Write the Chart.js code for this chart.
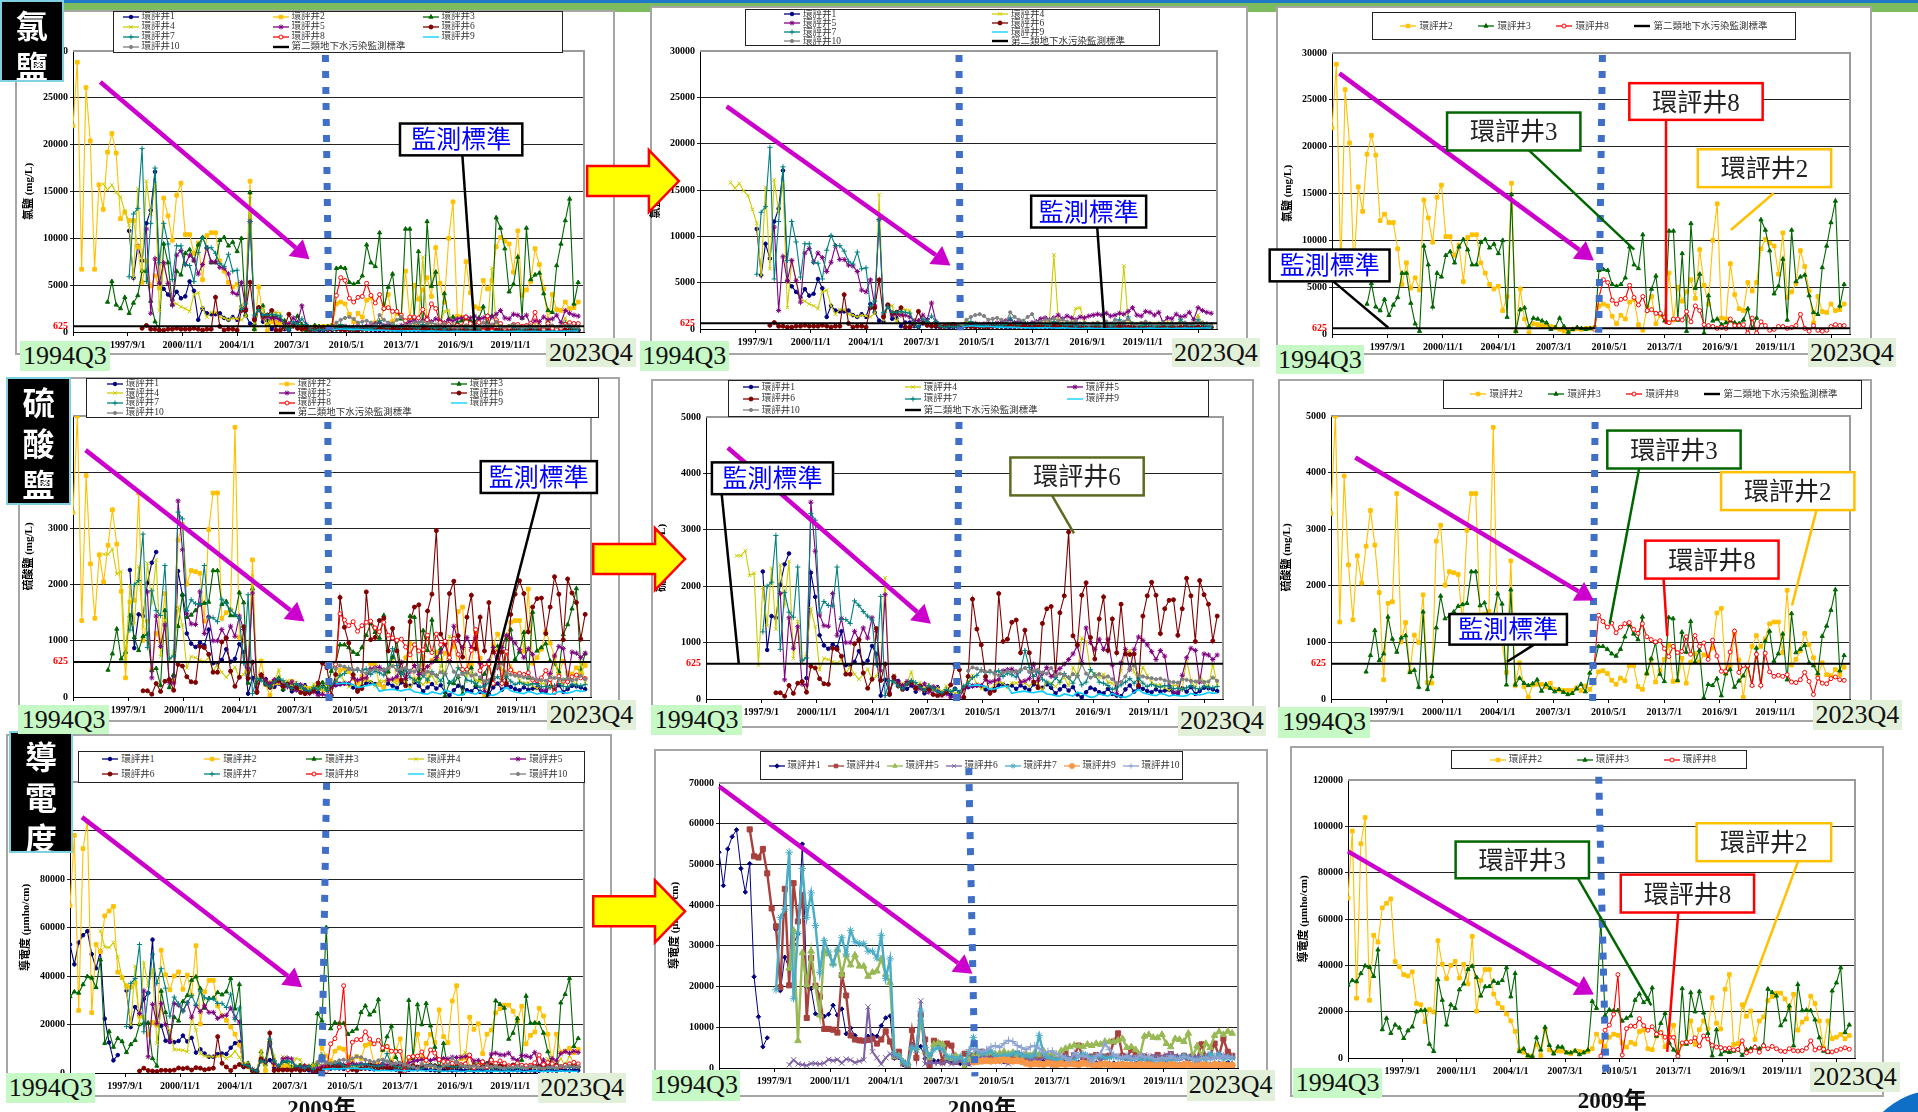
<!DOCTYPE html>
<html lang="zh-Hant">
<head>
<meta charset="utf-8">
<title>氯鹽 硫酸鹽 導電度 趨勢</title>
<script src="https://cdn.jsdelivr.net/npm/chart.js@4"></script>
<style>
  html, body { margin: 0; padding: 0; background: #fff; overflow: hidden; }
  #page { position: relative; width: 1918px; height: 1112px; overflow: hidden; }
  .abs { position: absolute; box-sizing: border-box; }
  .frame { background: #fff; border: 2px solid #a6a6a6; z-index: 1; }
  canvas.plot { position: absolute; z-index: 2; }
  .legend { background: #fff; border: 1.5px solid #222; z-index: 3; display: grid; align-items: center; font: 9.5px/9px "Liberation Serif", "Noto Sans CJK TC", serif; color: #333; }
  .legend div { display: flex; align-items: center; white-space: nowrap; min-height: 0; height: 9px; }
  .legend canvas { margin-right: 2px; }
  .tab { background: #000; color: #fff; border: 2px solid #7fd0e0; z-index: 5; overflow: hidden; text-align: center; padding-top: 2px; font: 700 32px/41px "Noto Sans CJK TC", serif; }
  .range { z-index: 5; color: #111; text-align: center; font: 26px/30px "Liberation Serif", serif; }
  #overlay { position: absolute; left: 0; top: 0; z-index: 4; }
</style>
</head>
<body>
<div id="page"></div>
<script>
const lead = (n, vals) => Array(n).fill(null).concat(vals);

// 橫軸刻度
const xTickLabels = ["1994/7/1", "1997/9/1", "2000/11/1", "2004/1/1", "2007/3/1", "2010/5/1", "2013/7/1", "2016/9/1", "2019/11/1", "2023/1/1"];
const standardValues = [625, 625];

// === 氯鹽 (mg/L) ===
const cl1 = lead(13, [10800,5800,9200,7600,11600,13000,17100,5200,4600,4000,3400,4300,3600,3800,5400,4400,1300,2500,2000,1900,1900,2000,1500,1300,1600,1300,2700,1800,900,800,2600,1100,1200,300,700,700,300,200,600,
  400,300,250,300,350,200,180,300,220,260,300,280,240,200,220,260,300,240,200,180,220,260,240,200,180,210,250,230,190,170,210,240,220,180,160,200,230,210,170,150,190,220,200,160,140,180,210,190,150,170,200,180,140,160,190,170,130,150,180,160,120,140,170,150,130,160]);
const cl2 = [22000,28800,6700,26100,20400,6700,15700,13100,19200,21200,19100,12100,12800,11900,11900,9100,5300,7600,4900,6000,4700,14300,12400,9800,14600,15900,10400,10400,8400,9500,5600,10300,10600,10600,7600,6500,5300,4800,5100,2500,4000,16100,300,4800,1600,100,1100,1000,900,900,800,700,500,300,500,500,600,500,600,600,
  700,3000,3200,3000,1900,1100,2000,1600,3400,3700,1000,400,2900,4000,1100,2000,1800,6500,1500,5000,3500,4500,5800,3800,9000,5200,3200,10000,13900,1700,1600,7500,4200,2700,2500,5500,4600,5500,9100,10100,9700,9400,6400,10800,3900,4500,5400,8900,7200,4600,1200,4000,2400,2300,3200,2500,2600,3200];
const cl3 = lead(8, [3200,5400,2900,2500,3700,2000,3100,3900,6500,6500,3300,1100,300,9400,7400,2900,6500,6100,8400,8800,7600,9300,10100,9000,7400,7400,9800,10100,9200,9600,8600,10000,1800,14900,300,2600,2800,800,1700,1600,1400,1200,500,700,1700,800,200,500,700,600,500,600,700,
  6800,6900,6800,5300,5100,5300,6000,9300,7400,7000,10600,2500,4800,6200,2200,1400,11000,11000,1500,8600,300,11800,4900,6400,100,4100,1400,1600,1000,1200,1400,1200,1100,1500,2700,600,1700,12200,11100,8900,4300,5100,8000,1500,11100,5600,6100,6300,4100,2300,2100,7100,9400,11900,14200,3000,5300]);
const cl4 = lead(7, [15800,15200,15700,14900,14400,12900,11400,5800,15300,6500,16100,12600,15800,2300,7300,5300,3200,3000,2700,2500,2200,4000,4200,2500,1600,2100,2100,1600,1500,1300,1500,1400,1300,1700,14500,1000,2500,2500,700,2100,2100,2000,400,
  800,700,900,600,400,500,350,600,500,400,500,900,700,600,450,500,600,550,400,450,600,500,350,400,500,600,450,500,600,700,900,8000,1000,600,500,700,2200,2300,700,600,500,700,600,400,500,450,700,6800,900,600,500,650,400,550,600,450,500,800,600,450,1000,500,400,600,1500,500,400,300]);
const cl5 = lead(17, [11000,2000,7800,5200,7400,5200,2900,8200,8700,7200,8200,7700,6200,7200,9000,7500,7500,6900,6800,6200,4200,4000,5300,2500,11800,1500,2500,1500,1600,1500,1500,1300,900,900,1500,1000,2800,800,
  300,200,400,300,350,400,500,450,600,500,550,600,500,650,700,900,1000,700,800,600,500,700,800,1100,1200,1000,1200,1500,1100,1400,1200,1000,1300,1200,1400,1500,1600,1500,1700,1400,1500,1700,1600,1900,2300,1500,1400,1900,1800,1500,1800,700,1200,1100,1600,1300,1400,1800,1000,2300,2000,1800,1700]);
const cl6 = lead(16, [400,700,300,300,200,200,300,300,400,300,300,300,400,300,200,300,300,3700,600,200,300,300,200,2300,2300,5300,1300,2600,1700,1800,2300,200,200,
  600,1900,700,400,300,400,200,300,400,500,250,300,350,250,200,250,150,200,300,250,300,350,400,300,250,300,350,400,350,300,350,300,400,350,300,250,300,350,300,250,200,250,300,200,250,300,200,300,250,200,300,250,200,150,250,200,150,200,250,200,150,200,250,300,200,250,200,150,200]);
const cl7 = lead(13, [5900,12600,13200,19600,5400,11600,17500,7400,11600,9400,5600,9200,9200,7200,7100,5400,8500,10100,9000,9000,8400,7300,7000,8300,6500,6600,2400,3000,11800,1800,2400,1800,1800,1900,1800,1700,700,200,1100,800,1400,800,
  300,150,300,200,300,400,500,800,500,400,300,500,600,300,400,500,1200,600,500,800,600,500,700,600,500,400,800,600,500,400,600,300,500,400,350,500,450,350,600,300,500,1000,500,1300,500,400,350,500,450,300,400,600,350,500,400,1000,500,450,400,1000,500,350,300]);
const cl8 = lead(60, [500,3900,5800,5500,3600,3200,3700,3800,5200,3900,3100,4000,2500,2600,2200,2200,1800,1200,1600,1600,1500,2400,1300,3000,2500,1000,900,800,600,700,600,1600,900,900,1000,100,1700,100,1300,900,400,500,800,800,600,700,900,2100,600,300,900,400,300,400,800,1000,900,900]);
const cl9 = lead(60, [200,300,350,300,280,250,300,250,200,220,180,200,180,150,130,120,100,130,120,150,130,100,90,120,100,80,70,60,80,90,70,60,80,60,50,70,60,80,70,60,80,60,70,90,70,60,80,70,60,80,70,90,80,70,90,110,100,90]);
const cl10 = lead(60, [500,1000,1300,1500,1600,1400,1000,1100,1200,1000,700,1800,1300,1000,900,1300,1600,700,800,1000,1000,1100,900,1000,800,700,900,600,700,500,600,700,500,800,600,1000,700,800,1100,600,500,650,800,600,500,600,700,550,650,500,600,700,550,600,650,700,600,550]);

// === 硫酸鹽 (mg/L) ===
const so1 = lead(13, [2260,870,1470,1440,2030,2390,2580,null,null,null,370,2240,1810,1130,950,890,970,920,1200,600,600,660,850,630,680,940,800,60,340,100,360,320,200,180,
  240,130,220,100,180,170,210,90,120,80,180,120,200,210,230,240,230,170,130,190,250,260,230,240,180,240,200,160,260,230,200,260,200,100,170,230,150,210,80,30,120,200,170,120,100,180,90,60,50,170,240,130,210,180,140,120,170,130,150,160,110,100,190,130,210,90,140,200,190,170,140]);
const so2 = [3280,5000,1360,3940,2370,1400,2530,2050,2700,3330,2720,1880,340,1690,1720,3630,1010,1350,490,1130,1000,1840,290,280,2790,3070,2010,2250,2230,2200,1350,2980,3630,3630,1400,1500,1550,4800,1060,1000,470,2440,240,640,220,30,250,260,260,220,280,170,160,150,150,150,200,150,230,170,
  280,480,500,450,330,260,370,320,590,590,220,170,450,700,300,500,700,950,310,320,720,280,650,800,650,780,760,900,1520,1600,450,570,1160,690,30,590,930,1120,930,1060,1330,1360,1360,820,1920,600,700,850,1160,960,730,420,640,430,410,520,430,560];
const so3 = lead(8, [480,770,1210,680,800,1450,1060,830,1080,1120,470,510,210,1540,170,400,1260,1820,1420,1460,1540,1640,1670,1690,2250,2250,1650,1700,1450,1450,1860,1680,250,1930,250,370,280,240,270,340,140,260,190,130,170,120,80,100,180,260,130,460,
  600,930,930,880,800,760,880,1100,1310,1150,1050,1450,450,710,1000,440,310,1440,1420,330,1180,830,1370,650,860,20,260,240,360,60,450,520,210,320,410,590,240,900,240,1020,1200,670,800,1150,340,1510,820,880,950,640,590,450,1110,1290,1570,1930,500,770]);
const so4 = lead(7, [2540,2540,2630,2190,2230,600,1980,1300,2320,1240,2380,1680,2440,720,1370,640,800,1600,1280,520,720,700,660,630,700,460,570,440,350,430,530,350,400,600,2150,90,420,260,280,290,480,180,
  290,190,260,160,200,130,230,140,100,120,180,300,420,270,180,220,180,240,300,280,200,290,280,310,280,230,300,280,160,300,280,220,310,380,240,560,420,1080,1020,500,450,380,440,300,280,180,500,820,860,480,320,560,420,300,240,260,200,150,250,230,170,700,330,200,420,300,220,620,260]);
const so5 = lead(17, [1870,340,1440,900,1280,260,250,3490,2620,1490,1300,1290,1870,1130,1430,1000,1000,1200,1050,1260,1080,1440,1200,500,1850,100,400,300,240,310,280,220,180,270,120,220,130,60,90,30,50,20,180,
  220,230,240,240,350,300,320,340,500,520,530,480,300,320,360,620,330,450,560,400,480,540,620,700,800,940,650,1260,1000,880,1060,880,1060,600,100,640,880,520,880,1100,1040,960,840,700,860,760,240,120,120,420,730,900,860,300,800,780,700,780]);
const so6 = lead(16, [110,110,50,240,100,280,310,120,580,550,360,270,260,900,880,760,440,440,980,1050,460,190,350,1250,330,620,80,390,230,170,270,300,190,230,150,180,80,60,80,120,250,600,520,30,
  400,1770,1240,960,400,100,150,1870,1020,1060,1360,1400,820,1220,820,300,200,1340,1600,1640,420,1530,1830,2960,1120,960,1840,2060,1090,710,1420,1810,860,1420,820,1680,800,790,800,240,1470,1830,2070,1840,1160,1600,1750,1760,1130,1600,2140,1830,1020,2100,1850,1680,1030,1470]);
const so7 = lead(13, [1190,2000,2070,2900,880,1890,1540,1450,2340,680,730,3290,3170,1540,1730,1660,1650,2340,1410,1410,1340,1740,1660,1550,1470,1400,600,1820,60,330,300,
  230,180,270,330,290,210,150,240,190,130,110,170,130,180,120,230,280,380,420,520,470,480,470,500,400,460,430,390,500,860,560,400,490,350,300,250,380,300,450,380,280,420,250,300,520,430,300,280,240,170,200,250,300,360,280,370,280,220,260,230,210,240,230,180,190,170,200,240,190,180,230,210,200,220]);
const so8 = lead(60, [580,1480,1370,1270,1340,1170,1270,1330,1350,1230,1160,1330,1100,1050,1010,1030,890,750,930,820,840,1100,790,1120,930,990,700,1040,760,490,490,830,1200,470,590,590,240,790,240,810,480,400,420,400,430,300,290,340,470,310,80,370,280,270,360,390,340,330]);
const so9 = lead(60, [230,240,250,240,220,170,180,200,220,230,100,120,130,140,120,110,130,140,90,80,60,50,90,70,50,120,100,60,30,40,90,70,50,100,60,40,30,60,120,170,110,90,70,60,100,80,50,70,60,50,60,100,80,70,90,120,100,110]);
const so10 = lead(60, [500,560,540,500,480,500,450,420,470,500,480,490,520,550,480,500,520,470,450,550,420,450,420,380,440,400,620,450,380,410,440,380,400,350,280,300,400,540,600,420,400,380,370,350,360,330,310,300,290,350,340,320,310,330,300,310,380,320]);

// === 導電度 (μmho/cm) ===
const ec1 = [53000,44800,53800,56800,58500,49000,43200,50200,22400,12600,5200,7400,null,34000,19000,27200,24500,30500,33000,55000,19800,19500,13300,12800,12700,13200,15400,13000,14500,8400,9800,8000,6700,6700,7800,8000,7800,10400,12300,12800,2400,2500,800,500,5800,5000,5300,2300,2300,1800,
  1700,1500,1900,1300,1400,1100,800,1000,1500,1700,1800,2000,1900,1700,1600,1500,1800,2100,1900,1700,1500,1900,2200,1800,1600,1400,1300,900,1300,1600,1500,1700,1400,1200,1100,900,1300,1200,1000,1100,1200,1000,1300,900,1100,1200,1000,800,1300,1100,1000,900,1200,1100,900,1000,1100,800,900,1200,1000,1100,900,1300,1200,1000,1400,1100];
const ec2 = [69000,98000,25800,92500,103800,24900,53000,50000,64800,66800,68700,41600,39400,36000,35400,37200,23500,23000,15700,20900,19800,50600,40500,34300,40000,41700,34500,40400,32000,52500,20200,33500,38200,38200,27600,23600,21700,19000,16000,11500,3500,2500,1000,800,5800,1000,12400,3500,2500,3000,3000,2500,1800,3000,2800,2600,2900,4000,10300,7000,
  5000,9000,10300,9800,6500,4700,6800,6000,11400,12000,4000,3600,9500,11000,4900,9200,14100,2500,6000,6800,16000,5900,12200,16000,12600,26000,15000,12500,29700,36000,5800,6200,23000,18000,20300,8000,16000,17700,24800,26500,28000,28000,25500,21500,27500,12000,15500,16900,26700,23500,16000,4400,16000,8400,9000,10200,8300,9700];
const ec3 = [31500,33500,33000,36500,39800,39200,35300,46700,12300,17200,10700,14300,13000,8500,11800,13500,20000,20500,20700,6000,2900,33800,25000,14300,23000,21500,29500,32000,38300,39700,34800,26800,30800,30900,33200,32300,33500,39000,26500,36500,2800,4000,1000,700,8800,3500,13300,5500,1800,4800,4700,2300,2300,3100,1500,2300,3500,24500,21500,60000,
  18300,20800,20500,20500,16000,17200,18200,25000,27700,24000,25500,30300,9500,15000,19300,6500,3500,1500,30000,6000,28200,20000,28700,19500,10700,1000,12200,1500,3000,2500,3000,3700,1200,3500,4000,4800,4000,5700,29800,28300,26800,14000,16500,22500,5300,31700,20500,20700,20500,16500,8800,3000,2400,29000,32500,39000,11000,14300];
const ec4 = lead(7, [58600,52000,51700,53800,47800,39200,34800,19800,44000,20300,45400,36000,42500,12300,27000,20200,17500,9600,9600,9400,8700,22800,17800,8000,7000,6800,6700,6900,7200,6000,7000,9000,6500,2800,4000,1200,500,9300,2500,13000,7000,500,6700,6000,1500,6000,5500,1500,2000,3500,
  2500,3000,3800,4000,3200,2800,2500,2200,3000,2500,3200,3500,2800,2400,3000,2600,2800,3100,2300,2500,2000,2300,3500,2200,3000,5500,2600,2400,2800,3200,2600,2800,3000,6500,8500,3000,2500,4500,3800,2300,2800,2200,2600,3200,2500,2800,3400,2700,2500,3000,2400,2800,2200,5800,2800,3000,6000,3000,7200,4000,3000]);
const ec5 = lead(16, [24500,33800,6700,28300,20500,28700,20000,13000,28700,28000,25700,29000,23000,27800,25300,27700,25000,25000,22500,23500,23800,26800,23000,21000,2800,3000,1500,800,5000,5000,12000,4000,2500,5800,6200,5800,2500,2200,3000,2500,200,2000,2800,
  3000,3200,3500,3800,3400,3600,4000,3500,3800,3200,3000,3500,3000,3800,3200,4200,3000,3600,1000,4200,4800,5200,5600,5400,5200,5800,5500,6000,5800,6500,6400,6500,6800,7200,5000,5200,4500,3200,7800,8200,7500,7400,8200,6000,5200,7200,7000,6500,8500,2800,5400,3000,6000,5000,8000,8900,8200,9000,8500]);
const ec6 = lead(16, [800,2000,1000,800,600,1100,1100,1000,1200,2100,1800,2100,1200,2200,2000,1300,1700,2000,15000,4000,2500,1000,2500,3500,2800,2800,1000,700,5800,4500,16500,1000,1300,1200,
  1300,1100,1500,1000,1300,1800,1200,900,1500,2000,3000,2600,2500,2800,2500,1500,1000,1800,2000,3500,2800,2000,2200,1800,2400,2600,500,1800,2500,3000,2500,3000,2800,3200,3000,2600,2800,2000,2500,2600,3000,2800,2400,3000,2800,2600,2800,3200,2400,3000,3000,2600,3300,3600,3000,2800,2400,3000,2600,2800,2600,3000,3300,2600,2800,3000,2800,2600]);
const ec7 = lead(13, [19200,37000,39000,53000,17000,33000,49000,37000,43000,35000,23500,31300,28500,25500,29000,32000,28000,33800,31000,30500,30600,28700,28700,27000,32500,22000,26800,3500,3000,1500,800,5000,4500,14000,5000,3000,4500,5000,4500,2800,2800,2000,2800,1500,3800,7500,
  4000,3500,3800,4200,3000,2800,3200,3000,3500,3800,3200,3000,2800,3200,8000,3500,2600,2400,2000,2200,2500,2000,1800,3000,3500,3000,2400,2800,3000,2500,2600,2800,2600,2300,2500,1900,2300,2100,2000,2400,1800,2000,1700,2200,1900,2100,2300,3000,2400,2100,1900,2300,2100,3500,2500,3500,2200,2600,2400]);
const ec8 = lead(59, [800,12000,14200,18900,36000,1300,12700,13800,13700,17000,14000,12000,13500,10300,10900,9000,8900,8900,800,6500,6800,7000,8700,5200,9500,8200,5500,4700,4500,4000,4300,3500,3700,7400,2200,3000,4600,2500,5300,4000,5000,4000,3000,2800,4000,3200,3000,3200,4200,7400,3500,4300,3800,2800,2600,3200,3800,4400,3800]);
const ec9 = lead(58, [1500,1600,1700,1800,1700,1800,1900,2000,1900,1700,1800,1600,1200,900,1100,1000,900,1200,1000,800,1100,900,1100,1000,800,1200,1000,900,700,800,1000,800,600,700,900,700,800,600,900,700,800,600,700,800,600,900,700,600,800,900,700,600,800,700,600,900,700,800,600,700]);
const ec10 = lead(57, [4500,4800,4300,4000,4500,5200,5500,5000,6000,6800,6500,5500,5000,4500,5200,5500,4800,3800,4000,4200,3500,3000,2500,1800,3800,2800,3000,2600,1500,3000,3500,6000,4500,3200,2800,2500,3000,2400,2200,3200,2600,2800,2300,2000,2600,2200,3000,2400,2000,2800,2600,2200,1800,2400,2600,2000,2800,2400,3000,2500,2700]);

const chlorideWells = [cl1, cl2, cl3, cl4, cl5, cl6, cl7, cl8, cl9, cl10];
const sulfateWells = [so1, so2, so3, so4, so5, so6, so7, so8, so9, so10];
const conductWells = [ec1, ec2, ec3, ec4, ec5, ec6, ec7, ec8, ec9, ec10];

const wellNames = ["環評井1", "環評井2", "環評井3", "環評井4", "環評井5", "環評井6", "環評井7", "環評井8", "環評井9", "環評井10"];
const stdName = "第二類地下水污染監測標準";

// 線與點的樣式
const classicStyle = [
  { color: "#000080", point: "circle", r: 1.8 },
  { color: "#FFC000", point: "rect", r: 2.6 },
  { color: "#006600", point: "triangle", r: 2.4 },
  { color: "#CCCC00", point: "crossRot", r: 2.6 },
  { color: "#800080", point: "star", r: 2.6 },
  { color: "#800000", point: "circle", r: 2 },
  { color: "#008080", point: "cross", r: 2.6 },
  { color: "#FF0000", point: "circle", r: 2, hollow: true },
  { color: "#00CCFF", point: false, r: 0, width: 1.6 },
  { color: "#808080", point: "circle", r: 1.6 }
];
const officeStyle = [
  { color: "#000080", point: "rectRot", r: 2.2, width: 1 },
  classicStyle[1],
  classicStyle[2],
  { color: "#A8403D", point: "rect", r: 3.6, width: 2.4 },
  { color: "#98B954", point: "triangle", r: 3.8, width: 2.4 },
  { color: "#7D60A0", point: "crossRot", r: 3.8, width: 2 },
  { color: "#4BACC6", point: "star", r: 3.8, width: 2.4 },
  classicStyle[7],
  { color: "#F79646", point: "circle", r: 3.2, width: 2.4 },
  { color: "#8DA3D1", point: "cross", r: 3.8, width: 2 }
];

const S = 1918 / 1568; // 座標以縮圖量取
const sz = v => v * S;

const ALL = [0, 1, 2, 3, 4, 5, 6, 7, 8, 9];
const OTHERS = [0, 3, 4, 5, 6, 8, 9];
const MAIN = [1, 2, 7];

const panels = [
  { wells: chlorideWells, use: ALL, std: true, max: 30000, step: 5000, unit: "氯鹽 (mg/L)", frame: [12, 8, 503, 290], plot: [60, 42, 478, 272], legend: [92, 9, 460, 43], cols: 3, colW: 150, pad: 8 },
  { wells: chlorideWells, use: OTHERS, std: true, max: 30000, step: 5000, unit: "氯鹽 (mg/L)", frame: [531, 5, 1020, 290], plot: [572, 42, 995, 270], legend: [609, 7, 948, 38], cols: 2, colW: 208, pad: 37 },
  { wells: chlorideWells, use: MAIN, std: true, max: 30000, step: 5000, unit: "氯鹽 (mg/L)", frame: [1043, 5, 1530, 290], plot: [1089, 43, 1513, 273], legend: [1122, 10, 1468, 33], cols: 4, colW: 78, pad: 26 },
  { wells: sulfateWells, use: ALL, std: true, max: 5000, step: 1000, unit: "硫酸鹽 (mg/L)", frame: [15, 308, 507, 590], plot: [60, 340, 484, 570], legend: [70, 309, 490, 342], cols: 3, colW: 172, pad: 19 },
  { wells: sulfateWells, use: OTHERS, std: true, max: 5000, step: 1000, unit: "硫酸鹽 (mg/L)", frame: [532, 310, 1025, 595], plot: [577, 341, 1000, 572], legend: [595, 311, 988, 341], cols: 3, colW: 162, pad: 13 },
  { wells: sulfateWells, use: MAIN, std: true, max: 5000, step: 1000, unit: "硫酸鹽 (mg/L)", frame: [1045, 310, 1530, 590], plot: [1088, 340, 1513, 572], legend: [1180, 311, 1522, 334], cols: 4, colW: 78, pad: 25 },
  { wells: conductWells, use: ALL, std: false, max: 120000, step: 20000, unit: "導電度 (μmho/cm)", frame: [5, 600, 500, 897], plot: [57, 639, 478, 877], legend: [64, 614, 478, 640], cols: 5, colW: 102, pad: 22 },
  { wells: conductWells, use: OTHERS, std: false, max: 70000, step: 10000, unit: "導電度 (μmho/cm)", frame: [535, 612, 1037, 897], plot: [588, 640, 1013, 873], legend: [621, 614, 967, 638], cols: 7, colW: 59, pad: 7, office: true },
  { wells: conductWells, use: MAIN, std: false, max: 120000, step: 20000, unit: "導電度 (μmho/cm)", frame: [1055, 610, 1540, 897], plot: [1102, 638, 1517, 866], legend: [1186, 613, 1428, 629], cols: 3, colW: 87, pad: 37 }
];

// 監測位置 (藍色虛線)
const dashLines = [
  [266, 45, 269, 270], [784, 45, 785, 270], [1310, 45, 1307, 272],
  [268, 345, 269, 575], [784, 345, 782, 575], [1304, 345, 1302, 575],
  [267, 640, 263, 880], [792, 628, 797, 880], [1307, 635, 1313, 882]
];
// 紫色箭頭
const trendArrows = [
  [82, 67, 253, 212], [594, 87, 777, 217], [1095, 60, 1303, 213],
  [70, 368, 249, 508], [595, 366, 761, 510], [1108, 374, 1303, 491],
  [67, 668, 247, 807], [588, 643, 795, 796], [1102, 696, 1303, 813]
];
// 黃色箭頭: x0, x1, 中線 y
const moveArrows = [[480, 555, 148], [485, 560, 457], [485, 560, 745]];
// 標註: 文字, 框, 引線, 顏色
const callouts = [
  { t: "監測標準", box: [327, 101, 427, 127], line: [378, 127, 388, 270], c: "#000", tc: "#0000FF" },
  { t: "監測標準", box: [843, 160, 937, 186], line: [897, 186, 903, 268], c: "#000", tc: "#0000FF" },
  { t: "監測標準", box: [1038, 204, 1136, 230], line: [1090, 230, 1135, 268], c: "#000", tc: "#0000FF" },
  { t: "環評井3", box: [1183, 92, 1292, 123], line: [1250, 123, 1336, 204], c: "#006600", tc: "#222" },
  { t: "環評井8", box: [1332, 68, 1441, 98], line: [1362, 98, 1362, 265], c: "#FF0000", tc: "#222" },
  { t: "環評井2", box: [1388, 122, 1497, 153], line: [1450, 158, 1415, 188], c: "#FFC000", tc: "#222" },
  { t: "監測標準", box: [393, 377, 488, 403], line: [441, 403, 398, 570], c: "#000", tc: "#0000FF" },
  { t: "監測標準", box: [582, 378, 681, 404], line: [590, 404, 604, 543], c: "#000", tc: "#0000FF" },
  { t: "環評井6", box: [826, 374, 935, 405], line: [860, 405, 878, 436], c: "#5B6B1F", tc: "#222" },
  { t: "監測標準", box: [1185, 502, 1281, 527], line: [1254, 527, 1232, 541], c: "#000", tc: "#0000FF" },
  { t: "環評井3", box: [1314, 352, 1423, 383], line: [1340, 383, 1316, 510], c: "#006600", tc: "#222" },
  { t: "環評井2", box: [1407, 386, 1516, 417], line: [1485, 417, 1465, 495], c: "#FFC000", tc: "#222" },
  { t: "環評井8", box: [1345, 442, 1454, 473], line: [1360, 473, 1363, 520], c: "#FF0000", tc: "#222" },
  { t: "環評井3", box: [1190, 688, 1299, 718], line: [1290, 718, 1350, 822], c: "#006600", tc: "#222" },
  { t: "環評井2", box: [1387, 673, 1497, 704], line: [1470, 704, 1425, 825], c: "#FFC000", tc: "#222" },
  { t: "環評井8", box: [1325, 715, 1434, 746], line: [1372, 746, 1363, 860], c: "#FF0000", tc: "#222" }
];
const tabs = [
  { t: "氯鹽", box: [0, 0, 52, 67] },
  { t: "硫酸鹽", box: [5, 308, 58, 413] },
  { t: "導電度", box: [7, 598, 60, 697] }
];
const ranges = [
  [16, 279, 90, 303, 0], [446, 276, 520, 300, 1],
  [523, 279, 596, 303, 0], [958, 276, 1030, 300, 1],
  [1043, 282, 1115, 306, 0], [1478, 276, 1550, 300, 1],
  [15, 576, 89, 600, 0], [447, 572, 520, 597, 1],
  [532, 576, 607, 601, 0], [963, 577, 1035, 602, 1],
  [1045, 578, 1120, 603, 0], [1482, 572, 1555, 597, 1],
  [5, 877, 78, 902, 0], [440, 877, 512, 902, 1],
  [533, 875, 605, 900, 0], [970, 875, 1042, 900, 1],
  [1057, 873, 1130, 898, 0], [1480, 868, 1553, 893, 1]
];
const yearLabels = [[263, 912], [803, 912], [1318, 906]];

const page = document.getElementById("page");

function addDiv(cls, box) {
  const d = document.createElement("div");
  d.className = "abs " + cls;
  d.style.left = sz(box[0]) + "px";
  d.style.top = sz(box[1]) + "px";
  d.style.width = sz(box[2] - box[0]) + "px";
  d.style.height = sz(box[3] - box[1]) + "px";
  page.appendChild(d);
  return d;
}

// 上方色帶
function addBand(top, h, color) {
  const d = document.createElement("div");
  d.className = "abs";
  d.style.cssText += `left:0;width:1918px;top:${top}px;height:${h}px;background:${color}`;
  page.appendChild(d);
}
addBand(3, 9, "#7DBB5F");
addBand(0, 3, "#1F78C8");

const plotBorder = {
  id: "plotBorder",
  beforeDatasetsDraw(chart) {
    const a = chart.chartArea, c = chart.ctx;
    c.save();
    c.strokeStyle = "#9a9a9a";
    c.lineWidth = 2;
    c.beginPath();
    c.moveTo(a.left, a.top);
    c.lineTo(a.right, a.top);
    c.lineTo(a.right, a.bottom);
    c.stroke();
    c.restore();
  }
};

const seriesPoints = vals => vals.map((v, i) => ({ x: i * 3, y: v }));

function buildDatasets(p) {
  const styles = p.office ? officeStyle : classicStyle;
  const sets = p.use.map((w, n) => {
    const st = styles[w];
    return {
      label: wellNames[w],
      data: seriesPoints(p.wells[w]),
      borderColor: st.color,
      backgroundColor: st.hollow ? "#fff" : st.color,
      borderWidth: st.width || 1.1,
      pointStyle: st.point,
      pointRadius: st.r,
      pointBorderWidth: 1,
      pointBorderColor: st.color,
      spanGaps: false,
      order: 50 - n
    };
  });
  if (p.std) {
    sets.push({
      label: stdName,
      data: [{ x: 0, y: standardValues[0] }, { x: 355, y: standardValues[1] }],
      borderColor: "#000",
      borderWidth: 2,
      pointRadius: 0,
      order: 1
    });
  }
  return sets;
}

function drawPlot(p) {
  addDiv("frame", p.frame);
  const left = 52, top = 8, right = 8, bottom = 28;
  const w = sz(p.plot[2] - p.plot[0]), h = sz(p.plot[3] - p.plot[1]);
  const cv = document.createElement("canvas");
  cv.className = "plot";
  cv.width = w + left + right;
  cv.height = h + top + bottom;
  cv.style.left = (sz(p.plot[0]) - left) + "px";
  cv.style.top = (sz(p.plot[1]) - top) + "px";
  cv.style.width = cv.width + "px";
  cv.style.height = cv.height + "px";
  page.appendChild(cv);

  const tickFont = { family: '"Liberation Serif", serif', size: 10, weight: "bold" };
  new Chart(cv.getContext("2d"), {
    type: "line",
    data: { datasets: buildDatasets(p) },
    plugins: [plotBorder],
    options: {
      responsive: false,
      animation: false,
      layout: { autoPadding: false, padding: { top: top, right: right, left: 0, bottom: 0 } },
      plugins: { legend: { display: false }, tooltip: { enabled: false } },
      scales: {
        x: {
          type: "linear",
          min: 0,
          max: 355,
          afterBuildTicks: s => { s.ticks = xTickLabels.map((_, i) => ({ value: i * 38 })); },
          afterFit: s => { s.height = bottom; },
          grid: { drawOnChartArea: false, color: "#000", tickLength: 4 },
          border: { color: "#000" },
          ticks: {
            autoSkip: false,
            maxRotation: 0,
            color: "#000",
            font: tickFont,
            padding: 3,
            callback: (v, i) => i === 0 ? "" : xTickLabels[i]
          }
        },
        y: {
          min: 0,
          max: p.max,
          afterBuildTicks: s => {
            const ticks = [];
            for (let v = 0; v <= p.max; v += p.step) ticks.push({ value: v });
            if (p.std) ticks.splice(1, 0, { value: 625 });
            s.ticks = ticks;
          },
          afterFit: s => { s.width = left; },
          title: { display: true, text: p.unit, color: "#000", padding: { top: 2, bottom: 0 }, font: { family: '"Liberation Serif", "Noto Sans CJK TC", serif', size: 11, weight: "bold" } },
          grid: {
            color: c => (c.tick && (c.tick.value === 625 || c.tick.value === p.max || c.tick.value === 0)) ? "rgba(0,0,0,0)" : "#222",
            lineWidth: 1,
            tickLength: 3
          },
          border: { color: "#000" },
          ticks: {
            autoSkip: false,
            color: c => c.tick.value === 625 ? "#FF0000" : "#000",
            font: tickFont,
            padding: 2,
            callback: v => String(v)
          }
        }
      }
    }
  });
}

// 圖例樣本
function legendSwatch(st, isStd) {
  const cv = document.createElement("canvas");
  cv.width = 18;
  cv.height = 8;
  const c = cv.getContext("2d");
  c.strokeStyle = st.color;
  c.lineWidth = isStd ? 2.4 : 1.3;
  c.beginPath();
  c.moveTo(1, 4);
  c.lineTo(17, 4);
  c.stroke();
  if (st.point && Chart.helpers && Chart.helpers.drawPoint) {
    c.fillStyle = st.hollow ? "#fff" : st.color;
    c.lineWidth = 1;
    Chart.helpers.drawPoint(c, { pointStyle: st.point, radius: Math.min(st.r, 2.5), rotation: 0, borderWidth: 1 }, 9, 4);
  }
  return cv;
}

function drawLegend(p) {
  const d = addDiv("legend", p.legend);
  const styles = p.office ? officeStyle : classicStyle;
  const entries = p.use.map(w => ({ name: wellNames[w], st: styles[w] }));
  if (p.std) entries.push({ name: stdName, st: { color: "#000" }, std: true });
  const rows = Math.ceil(entries.length / p.cols);
  d.style.gridTemplateColumns = `repeat(${p.cols}, ${p.colW}px)`;
  d.style.gridTemplateRows = `repeat(${rows}, 1fr)`;
  d.style.paddingLeft = p.pad + "px";
  entries.forEach(e => {
    const row = document.createElement("div");
    row.appendChild(legendSwatch(e.st, e.std));
    row.appendChild(document.createTextNode(e.name));
    d.appendChild(row);
  });
}

panels.forEach(p => {
  drawPlot(p);
  drawLegend(p);
});

// === 標註層 ===
const SVG_NS = "http://www.w3.org/2000/svg";
const svg = document.createElementNS(SVG_NS, "svg");
svg.id = "overlay";
svg.setAttribute("width", 1918);
svg.setAttribute("height", 1112);
page.appendChild(svg);

function el(name, attrs, text) {
  const e = document.createElementNS(SVG_NS, name);
  Object.keys(attrs).forEach(k => e.setAttribute(k, attrs[k]));
  if (text) e.textContent = text;
  svg.appendChild(e);
  return e;
}

dashLines.forEach(l => {
  el("line", { x1: sz(l[0]), y1: sz(l[1]), x2: sz(l[2]), y2: sz(l[3]), stroke: "#3F6FC6", "stroke-width": 7, "stroke-dasharray": "7 9" });
});

trendArrows.forEach(a => {
  const x1 = sz(a[0]), y1 = sz(a[1]), x2 = sz(a[2]), y2 = sz(a[3]);
  const len = Math.hypot(x2 - x1, y2 - y1), ux = (x2 - x1) / len, uy = (y2 - y1) / len;
  const hx = x2 - ux * 18, hy = y2 - uy * 18;
  el("line", { x1: x1, y1: y1, x2: hx, y2: hy, stroke: "#CC00CC", "stroke-width": 4.5 });
  el("polygon", { fill: "#CC00CC", points: `${x2},${y2} ${hx - uy * 11},${hy + ux * 11} ${hx + uy * 11},${hy - ux * 11}` });
});

moveArrows.forEach(a => {
  const x0 = sz(a[0]), x1 = sz(a[1]), c = sz(a[2]), head = x1 - 30;
  el("polygon", { fill: "#FFFF00", stroke: "#FF0000", "stroke-width": 2.5, points: `${x0},${c - 15} ${head},${c - 15} ${head},${c - 31} ${x1},${c} ${head},${c + 31} ${head},${c + 15} ${x0},${c + 15}` });
});

callouts.forEach(o => {
  el("line", { x1: sz(o.line[0]), y1: sz(o.line[1]), x2: sz(o.line[2]), y2: sz(o.line[3]), stroke: o.c, "stroke-width": 2.5 });
  el("rect", { x: sz(o.box[0]), y: sz(o.box[1]), width: sz(o.box[2] - o.box[0]), height: sz(o.box[3] - o.box[1]), fill: "#fff", stroke: o.c, "stroke-width": 2.5 });
  el("text", {
    x: sz((o.box[0] + o.box[2]) / 2), y: sz((o.box[1] + o.box[3]) / 2) + 9,
    "text-anchor": "middle", fill: o.tc, "font-size": 25,
    "font-family": '"Liberation Serif", "Noto Sans CJK TC", serif'
  }, o.t);
});

yearLabels.forEach(y => {
  el("text", { x: sz(y[0]), y: sz(y[1]), "text-anchor": "middle", "font-size": 23, "font-weight": "bold", fill: "#111", "font-family": '"Liberation Serif", "Noto Sans CJK TC", serif' }, "2009年");
});

el("circle", { cx: 1938, cy: 1170, r: 80, fill: "#0F6FC6" });

// 標題與期間
tabs.forEach(t => {
  const d = addDiv("tab", t.box);
  d.innerHTML = t.t.split("").join("<br>");
});
ranges.forEach(r => {
  const d = addDiv("range", r);
  d.style.background = r[4] ? "#E2F0D9" : "#C6F9C6";
  d.textContent = r[4] ? "2023Q4" : "1994Q3";
});
</script>
</body>
</html>
